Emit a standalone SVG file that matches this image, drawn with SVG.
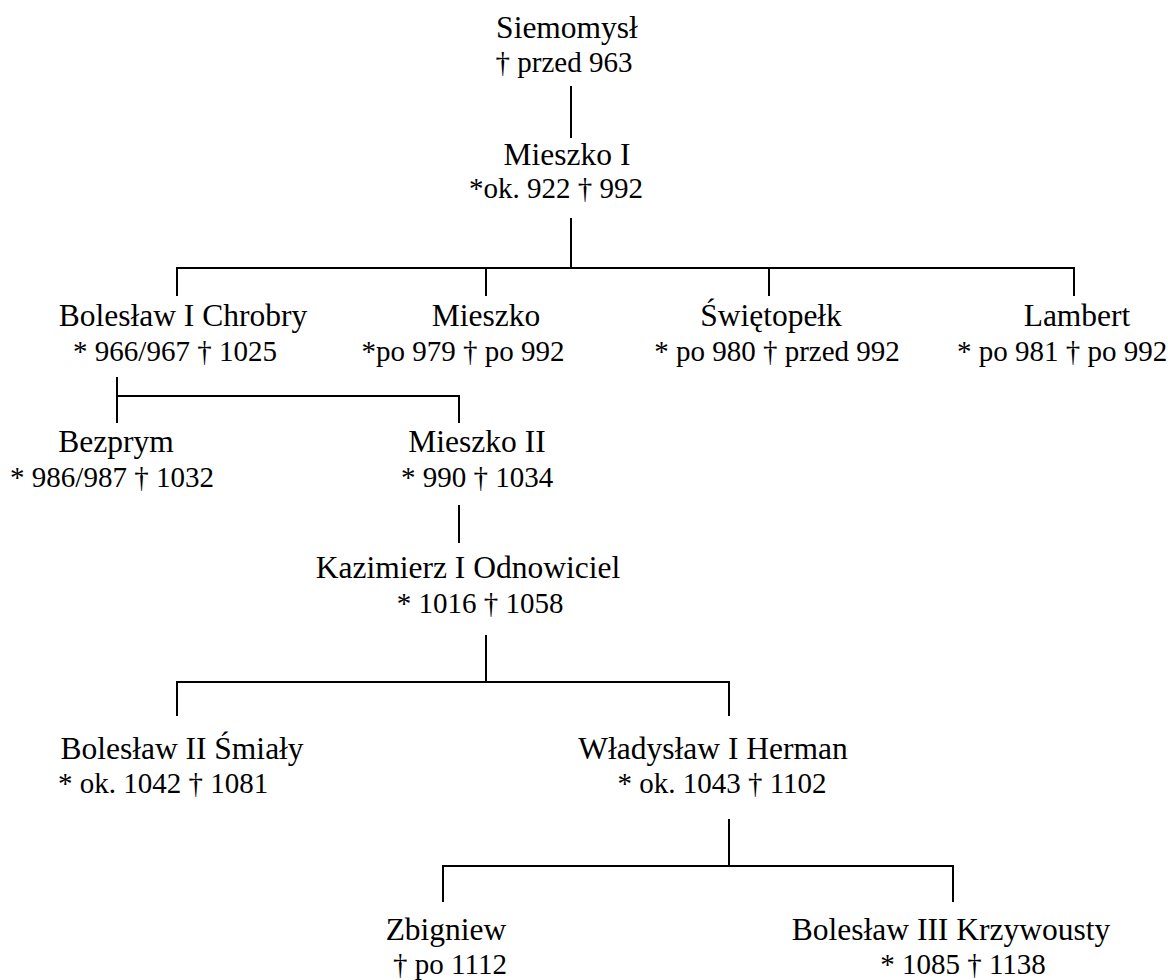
<svg xmlns="http://www.w3.org/2000/svg" width="1168" height="980" viewBox="0 0 1168 980">
<style>
.t text{font-family:'Liberation Serif','Times New Roman','DejaVu Serif',serif;font-size:31.5px;fill:#000;text-anchor:middle}
.t text.d{font-size:29px}
.c line{stroke:#000;stroke-width:2;fill:none}
</style>
<rect width="1168" height="980" fill="#fff"/>
<g class="c" id="connectors">
<line x1="571" y1="86" x2="571" y2="138"/>
<line x1="571" y1="218" x2="571" y2="268"/>
<line x1="176" y1="268" x2="1075" y2="268"/>
<line x1="177" y1="268" x2="177" y2="296"/>
<line x1="486" y1="268" x2="486" y2="296"/>
<line x1="769" y1="268" x2="769" y2="296"/>
<line x1="1074" y1="268" x2="1074" y2="296"/>
<line x1="117" y1="377" x2="117" y2="423"/>
<line x1="117" y1="396" x2="460" y2="396"/>
<line x1="459" y1="396" x2="459" y2="423"/>
<line x1="459" y1="505" x2="459" y2="543"/>
<line x1="486" y1="635" x2="486" y2="682"/>
<line x1="176" y1="682" x2="730" y2="682"/>
<line x1="177" y1="682" x2="177" y2="716"/>
<line x1="729" y1="682" x2="729" y2="716"/>
<line x1="729" y1="819" x2="729" y2="866"/>
<line x1="442" y1="866" x2="954" y2="866"/>
<line x1="443" y1="866" x2="443" y2="902"/>
<line x1="953" y1="866" x2="953" y2="902"/>
</g>
<g class="t" font-family="Liberation Serif, serif" font-size="31.5" text-anchor="middle">
<g id="siemomysl"><text x="567" y="38">Siemomysł</text><text class="d" x="564" y="72">† przed 963</text></g>
<g id="mieszko1"><text x="567" y="165">Mieszko I</text><text class="d" x="556" y="198">*ok. 922 † 992</text></g>
<g id="boleslaw1"><text x="183" y="326">Bolesław I Chrobry</text><text class="d" x="175" y="361">* 966/967 † 1025</text></g>
<g id="mieszko"><text x="486" y="326">Mieszko</text><text class="d" x="463" y="361">*po 979 † po 992</text></g>
<g id="swietopelk"><text x="771" y="326">Świętopełk</text><text class="d" x="777" y="361">* po 980 † przed 992</text></g>
<g id="lambert"><text x="1077" y="326">Lambert</text><text class="d" x="1062" y="361">* po 981 † po 992</text></g>
<g id="bezprym"><text x="116" y="452">Bezprym</text><text class="d" x="112" y="487">* 986/987 † 1032</text></g>
<g id="mieszko2"><text x="477" y="452">Mieszko II</text><text class="d" x="477" y="487">* 990 † 1034</text></g>
<g id="kazimierz"><text x="468" y="578">Kazimierz I Odnowiciel</text><text class="d" x="480" y="613">* 1016 † 1058</text></g>
<g id="boleslaw2"><text x="182" y="759">Bolesław II Śmiały</text><text class="d" x="163" y="793">* ok. 1042 † 1081</text></g>
<g id="wladyslaw"><text x="713" y="759">Władysław I Herman</text><text class="d" x="722" y="793">* ok. 1043 † 1102</text></g>
<g id="zbigniew"><text x="446" y="940">Zbigniew</text><text class="d" x="450" y="974">† po 1112</text></g>
<g id="boleslaw3"><text x="951" y="940">Bolesław III Krzywousty</text><text class="d" x="963" y="974">* 1085 † 1138</text></g>
</g>
</svg>
